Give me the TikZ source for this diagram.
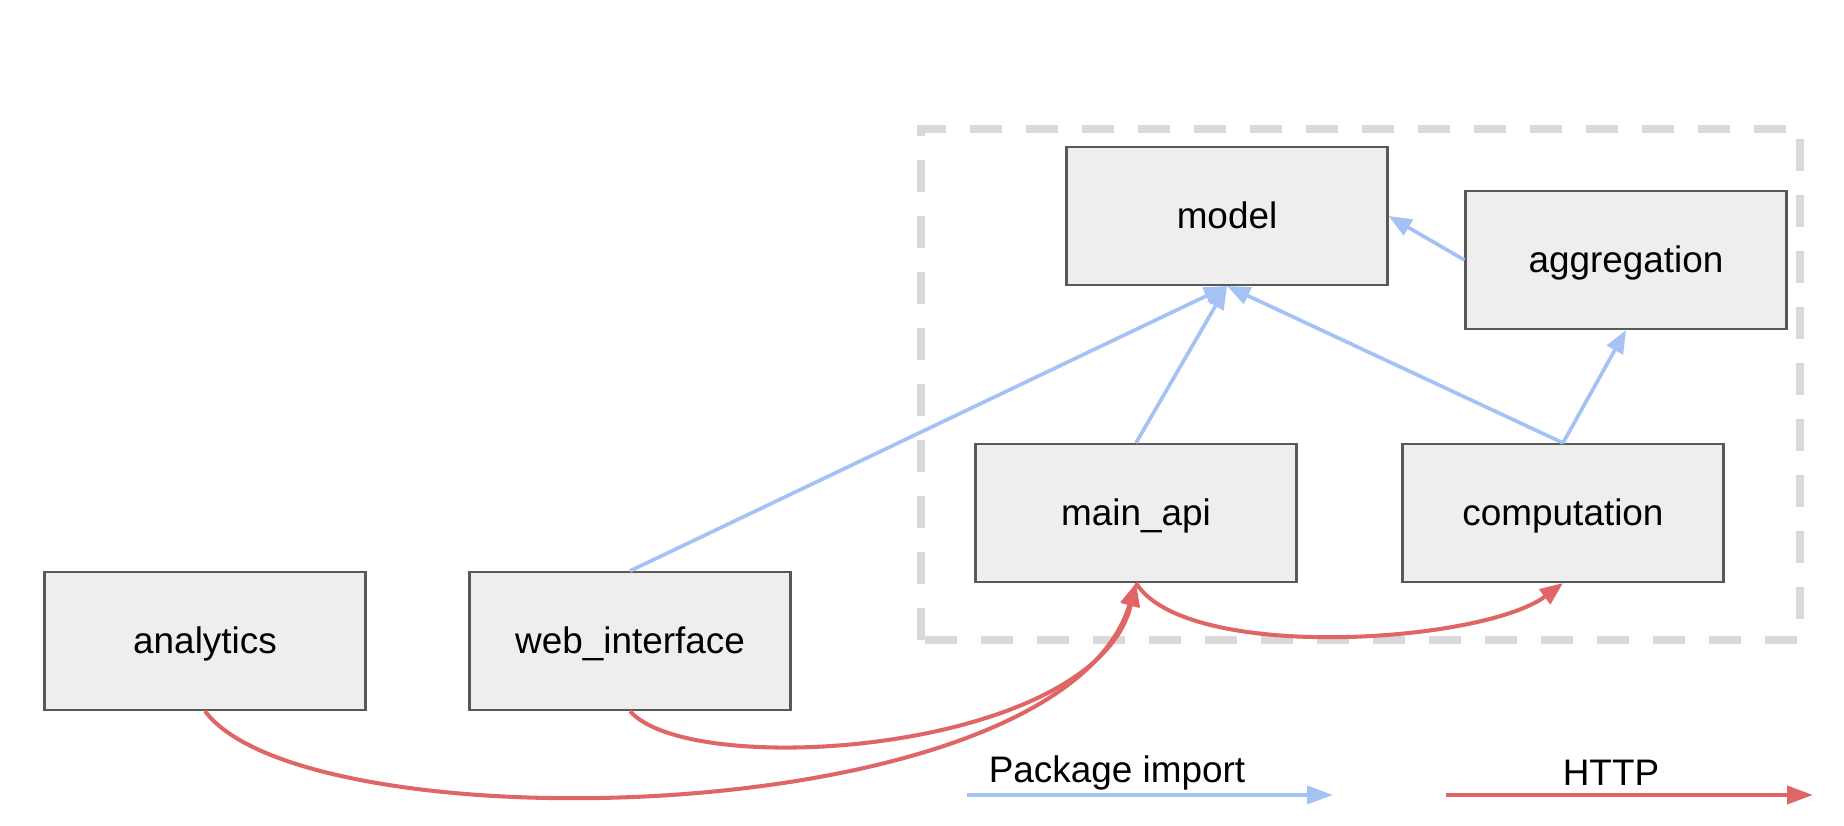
\documentclass[tikz,border=0pt]{standalone}
\usepackage{fontspec}
\setmainfont{Liberation Sans}
\usepackage{tikz}
\usetikzlibrary{arrows.meta}
\definecolor{depblue}{HTML}{A4C2F4}
\definecolor{depred}{HTML}{E06666}
\definecolor{depfill}{HTML}{EEEEEE}
\definecolor{depframe}{HTML}{595959}
\definecolor{depgroup}{HTML}{D9D9D9}
\tikzset{
  depbox/.style={
    draw=depframe,
    fill=depfill,
    line width=0.6pt,
    minimum width=3.21cm,
    minimum height=1.38cm,
    inner sep=0pt,
    text height=0.74em,
    text depth=0pt,
    font=\fontsize{10.5}{12.6}\selectfont
  },
  depimport/.style={-{Triangle[length=2.3mm,width=1.8mm]},line width=1.05pt,depblue},
  dephttp/.style={-{Triangle[length=2.3mm,width=1.8mm]},line width=1.15pt,depred},
  depframebox/.style={draw=depgroup,line width=2.2pt,dash pattern=on 3.2mm off 2.4mm},
  deplabel/.style={font=\fontsize{10.5}{12.6}\selectfont,inner sep=0pt}
}
\begin{document}
\begin{tikzpicture}[x=1cm,y=1cm]
  \useasboundingbox (0,0) rectangle (18.44,8.26);

  % service group
  \draw[depframebox] (9.21,1.86) rectangle (18.00,6.97);

  \node[depbox] (model) at (12.27,6.10) {model};
  \node[depbox] (aggregation) at (16.26,5.66) {aggregation};
  \node[depbox] (mainapi) at (11.36,3.13) {main\_api};
  \node[depbox] (computation) at (15.63,3.13) {computation};
  \node[depbox] (analytics) at (2.05,1.85) {analytics};
  \node[depbox] (webinterface) at (6.30,1.85) {web\_interface};

  % package imports
  \draw[depimport] (webinterface.north) -- (model.south);
  \draw[depimport] (mainapi.north) -- (model.south);
  \draw[depimport] (computation.north) -- (model.south);
  \draw[depimport] (computation.north) -- (aggregation.south);
  \draw[depimport] (aggregation.west) -- (model.east);

  % http calls
  \draw[dephttp] (mainapi.south) .. controls +(0.5,-0.8) and +(-0.8,-0.6) .. (computation.south);
  \draw[dephttp] (webinterface.south) .. controls +(0.6,-0.7) and +(-0.4,-1.7) .. (mainapi.south);
  \draw[dephttp] (analytics.south) .. controls +(1.0,-1.36) and +(-0.75,-2.5) .. (mainapi.south);

  % legend
  \coordinate (pkgstart) at (9.67,0.31);
  \coordinate (pkgend) at (13.33,0.31);
  \coordinate (httpstart) at (14.46,0.31);
  \coordinate (httpend) at (18.13,0.31);
  \draw[depimport,-{Triangle[length=2.6mm,width=1.8mm]}] (pkgstart) -- (pkgend);
  \draw[dephttp,-{Triangle[length=2.6mm,width=1.8mm]}] (httpstart) -- (httpend);
  \node[deplabel] (pkglabel) at (11.17,0.53) {Package import};
  \node[deplabel] (httplabel) at (16.11,0.53) {HTTP};
\end{tikzpicture}
\end{document}
